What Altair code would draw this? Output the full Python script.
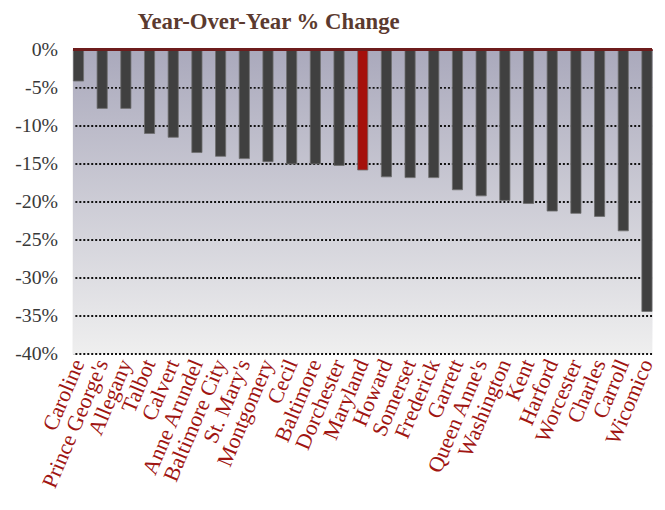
import altair as alt
import pandas as pd

counties = ["Caroline", "Prince George's", "Allegany", "Talbot", "Calvert",
            "Anne Arundel", "Baltimore City", "St. Mary's", "Montgomery", "Cecil",
            "Baltimore", "Dorchester", "Maryland", "Howard", "Somerset",
            "Frederick", "Garrett", "Queen Anne's", "Washington", "Kent",
            "Harford", "Worcester", "Charles", "Carroll", "Wicomico"]
values = [-4.1, -7.7, -7.7, -11.0, -11.5,
          -13.5, -14.0, -14.3, -14.7, -15.0,
          -15.0, -15.2, -15.8, -16.7, -16.8,
          -16.8, -18.4, -19.2, -19.8, -20.2,
          -21.2, -21.5, -21.9, -23.8, -34.4]
highlight = "Maryland"
y_ticks = [0, -5, -10, -15, -20, -25, -30, -35, -40]
grid_ticks = [-5, -10, -15, -20, -25, -30, -35, -40]

df = pd.DataFrame({"county": counties, "value": values})
df["is_md"] = df["county"] == highlight
grid_df = pd.DataFrame({"g": grid_ticks})

W, H = 584, 307
SERIF = "Liberation Serif"

y_scale = alt.Scale(domain=[-40, 0], nice=False, zero=True)
y_axis = alt.Axis(values=y_ticks, labelExpr="datum.value + '%'", title=None,
                  labelFont=SERIF, labelFontSize=20, labelColor="#383838",
                  labelPadding=16, ticks=False, grid=False,
                  domainColor="#a6a6a6", domainWidth=2)
x_scale = alt.Scale(paddingInner=0.57, paddingOuter=0.0)

bg = alt.Chart(df).mark_rect(
    color=alt.LinearGradient(
        gradient="linear", x1=0, y1=0, x2=0, y2=1,
        stops=[alt.GradientStop(color="#aaa9bc", offset=0),
               alt.GradientStop(color="#efefef", offset=1)])
).encode(
    x=alt.value(0), x2=alt.value("width"),
    y=alt.value(0), y2=alt.value("height")
)

grid = alt.Chart(grid_df).mark_rule(color="#111111", strokeWidth=2,
                                     strokeDash=[2, 2]).encode(
    y=alt.Y("g:Q", scale=y_scale, axis=y_axis)
)

bars = alt.Chart(df).mark_bar(stroke="#6e6e6e", strokeWidth=0.8).encode(
    x=alt.X("county:N", sort=None, scale=x_scale,
            axis=alt.Axis(orient="bottom", title=None, labelAngle=-67,
                          labelFont=SERIF, labelFontSize=22,
                          labelColor="#a01512", labelPadding=6,
                          ticks=False, domain=False, labelLimit=300)),
    y=alt.Y("value:Q", scale=y_scale, axis=y_axis),
    color=alt.condition(alt.datum.is_md, alt.value("#a5100b"),
                        alt.value("#404040"))
)

zero = alt.Chart(df).mark_rule(color="#6e1c1c", strokeWidth=2).encode(
    y=alt.Y("z:Q", scale=y_scale, axis=y_axis)
).transform_calculate(z="0")

top_ticks = alt.Chart(df).mark_point(opacity=0).encode(
    x=alt.X("county:N", sort=None, scale=x_scale,
            axis=alt.Axis(orient="top", title=None, labels=False,
                          domain=False, ticks=True, tickSize=5,
                          tickColor="#8b1a1a", tickWidth=1.5,
                          bandPosition=0, offset=-5)),
    y=alt.Y("value:Q", scale=y_scale, axis=y_axis)
)

chart = alt.layer(bg, grid, bars, zero, top_ticks).resolve_axis(
    x="independent"
).properties(
    width=W, height=H,
    title=alt.TitleParams("Year-Over-Year % Change", font=SERIF, fontSize=23,
                          fontWeight="bold", color="#5b3a2f", anchor="middle",
                          dx=-95, offset=6),
    padding={"left": 6, "top": 1, "right": 0, "bottom": 0},
    background="white"
).configure_view(stroke=None)

chart.save("out.html", embed_options={"renderer": "svg", "actions": False})
